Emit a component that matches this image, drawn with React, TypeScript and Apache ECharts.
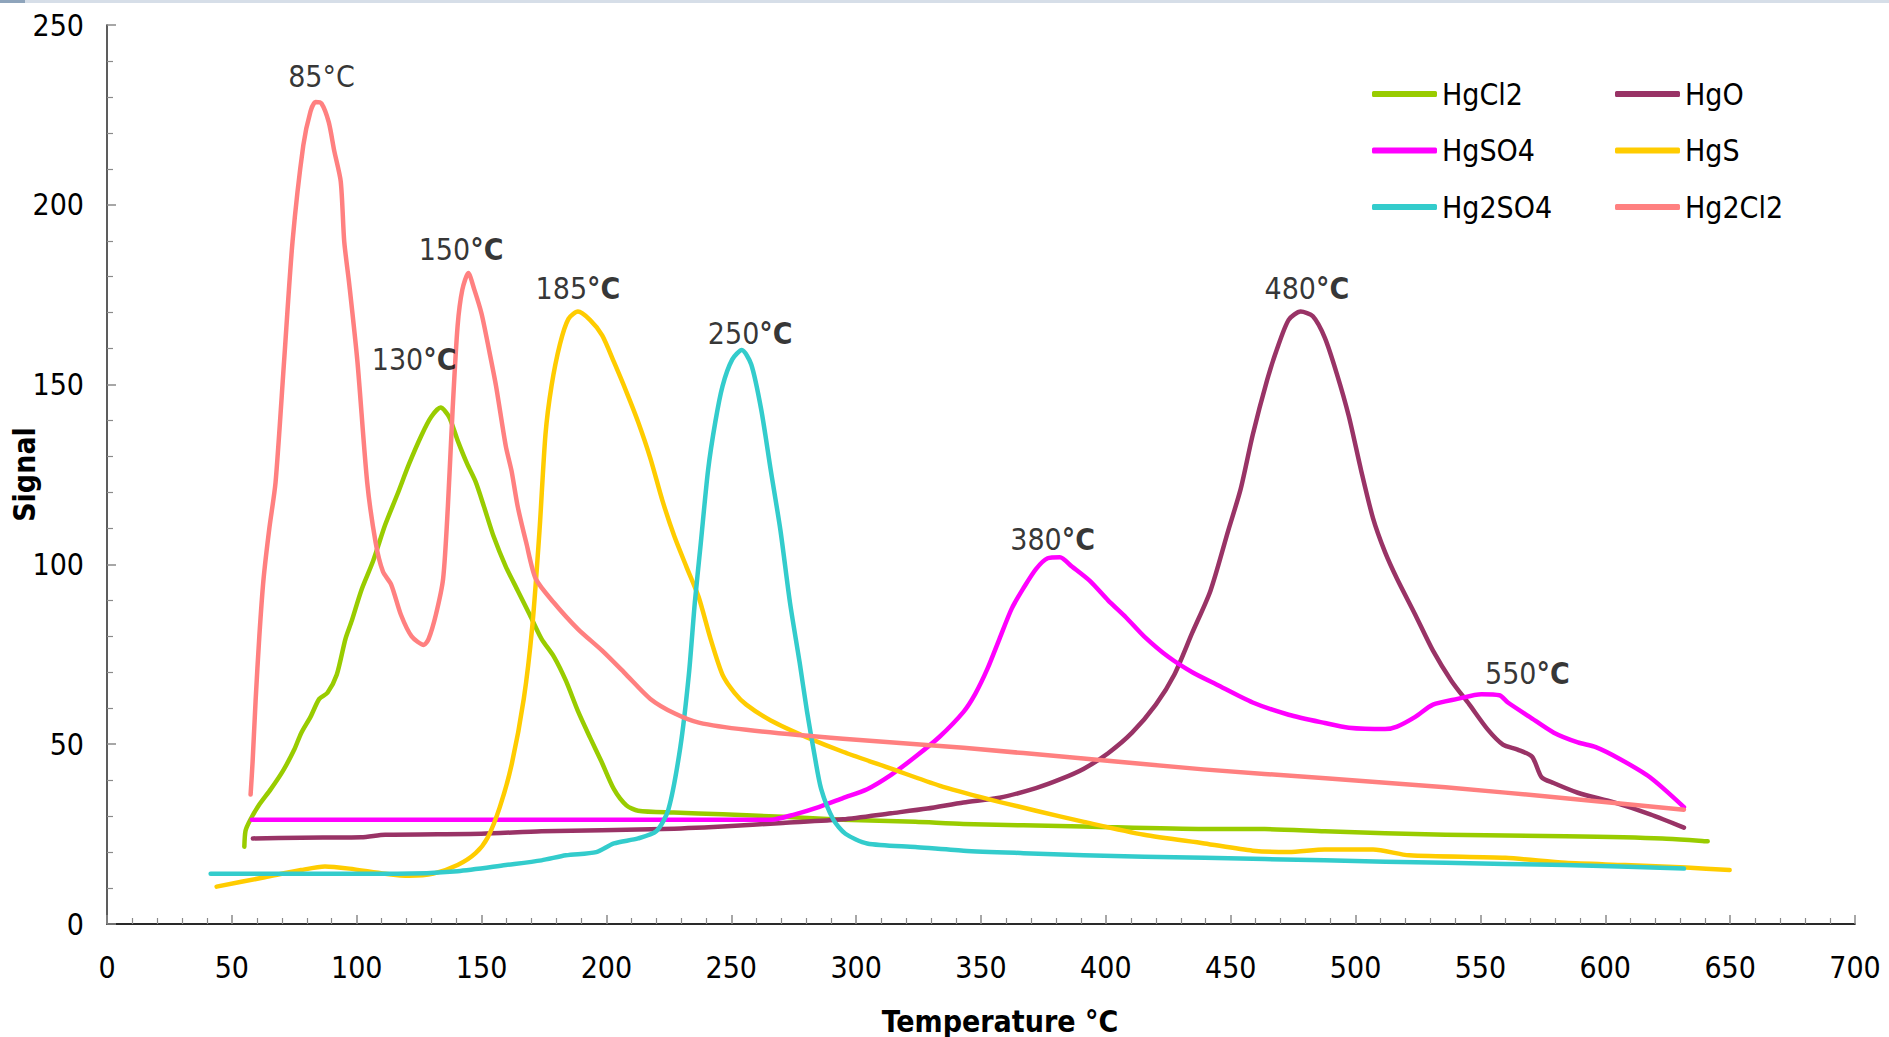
import React, { useEffect, useRef } from 'react';
import * as echarts from 'echarts';

const FONT = "'DejaVu Sans Condensed', 'DejaVu Sans', sans-serif";

const seriesNames = ['HgCl2', 'HgO', 'HgSO4', 'HgS', 'Hg2SO4', 'Hg2Cl2'];
const seriesColors = ['#99CC00', '#993366', '#FF00FF', '#FFCC00', '#33CCCC', '#FF8080'];

const hgCl2: number[][] = [[55,21.5],[55.5,26],[57.4,29],[60.8,33],[65.6,37.5],[70.4,42.5],[75,48.5],[77.7,53],[81.5,57.6],[85,62.6],[88.3,64.3],[92,69.3],[95.5,79.3],[98,84.3],[101.8,92.7],[106.6,101],[111.4,111],[116.3,119.5],[121,128],[126,136],[129.8,141],[133.6,143.6],[137,141],[140.4,134.5],[144.2,128],[147.6,123],[151,116],[154.8,107.8],[159.7,99.4],[164.5,92.7],[169.3,86],[174,79.3],[179,74.3],[183.8,67.6],[188.6,59.2],[193.4,51.9],[198,45.2],[203,37.5],[208,33],[212.7,31.5],[227,31],[246.5,30.5],[270.6,29.8],[294.7,29],[323.7,28.4],[343,27.8],[391,27.1],[439.5,26.4],[463.6,26.4],[487.7,25.8],[536,24.8],[584,24.4],[622.8,23.8],[641,23]];

const hgO: number[][] = [[58.4,23.8],[77.7,24],[101.8,24.1],[111.4,24.8],[150,25.1],[174,25.8],[222.4,26.4],[246.5,27.1],[270.6,28.1],[294.7,29.1],[314,30.8],[328.5,32.1],[343,33.8],[357.4,35.1],[372,37.8],[381.6,40.2],[391.2,43.2],[400.9,47.5],[410.5,53.2],[420,61],[427.4,69.3],[434.6,81],[441.9,92.7],[449,109.4],[454,121],[458.8,136],[464.6,151.3],[468.4,159.6],[473.2,168],[478,170.3],[482.9,169],[487.7,163],[492.5,153],[497.3,141.2],[502.2,126.2],[507,112.8],[511.8,103.4],[516.6,96],[523.9,86],[531,76],[538.4,67.6],[545.6,61],[552.8,54.2],[559,49.9],[564.9,48.5],[570.7,46.5],[574.5,40.8],[579.3,39.2],[589,36.5],[603.5,33.8],[618,30.5],[631.5,26.8]];

const hgSO4: number[][] = [[58,29],[150,29],[265.8,29],[275.5,30.5],[285,32.5],[294.7,35],[304.4,37.5],[314,41.5],[323.7,46.5],[333.3,52],[343,59],[347.7,64],[352.6,71],[357.4,79.3],[362.3,87.7],[367,93.4],[372,98.7],[376.7,101.7],[381.6,102],[386.4,99.4],[393.6,95.4],[400.9,90],[408,85.3],[415.3,80],[425,74.3],[434.6,70],[444.3,66.6],[458.8,61.6],[473.2,58.2],[487.7,55.9],[497.3,54.6],[511.8,54.2],[516.6,54.9],[523.9,57.6],[531,61],[540.8,62.6],[550.4,63.9],[557.6,63.6],[561,61.6],[569.7,57.6],[579.4,53.2],[589,50.5],[596.2,49.2],[605.8,45.9],[617.9,40.8],[631.5,32.5]];

const hgS: number[][] = [[43.9,10.4],[63.2,13],[77.7,15],[87.3,16],[97,15.4],[111.4,14],[121,13.4],[130.7,14],[140.4,16.4],[147.6,19.7],[152.4,24],[157.3,32.5],[162,44.2],[166.9,62.6],[170.3,82.7],[173.2,109.4],[175.6,136.2],[178,149.6],[181.4,161.3],[184.8,168.3],[188.6,170.3],[193.4,168],[198.3,163.7],[203,156.3],[208,148],[212.7,139.6],[217.6,129.5],[222.4,117.8],[227.2,107.8],[232,99.4],[236.9,91],[241.7,79.3],[246.5,69.3],[251.3,64.3],[256,61],[265.8,56.6],[280.3,51.9],[294.7,47.9],[314,43.2],[333.3,38.5],[352.6,34.8],[372,31.5],[391.2,28.4],[415.3,24.8],[439.5,22.4],[458.8,20.4],[473.2,20],[487.7,20.7],[507,20.7],[521.5,19.1],[560,18.4],[584,17],[608,16.4],[632.4,15.7],[649.8,15]];

const hg2SO4: number[][] = [[41.5,14],[77.7,14],[116.3,14],[140.4,14.7],[159.7,16.4],[174,17.7],[183.8,19.1],[195.9,20],[203,22.4],[212.7,23.8],[220,25.8],[224.8,31.8],[229.6,49.2],[233,69.3],[235.4,89.4],[237.8,106],[240.7,126.2],[243.6,139.6],[246.5,149.6],[250.4,157],[254.2,159.6],[258,155.6],[262,143],[265.8,126.2],[269.7,109.4],[273.5,89.4],[277.4,72.6],[280.3,59.2],[283.2,47.5],[286,37.5],[290.9,29],[295.7,25.1],[304.4,22.4],[323.7,21.4],[343,20.4],[367,19.7],[391.2,19.1],[439.5,18.4],[487.7,17.7],[536,17],[584,16.4],[631.5,15.4]];

const hg2Cl2: number[][] = [[57.5,36],[58.3,45],[59.5,62],[61,80],[62.7,96],[65,110],[67.5,122.8],[70.9,156.3],[74.3,189.8],[78.6,216.5],[81.5,226],[83.5,228.6],[85.9,228.2],[88.8,223],[91,215],[93.6,206.5],[95,189.8],[97,178],[100.3,156.3],[104.2,122.8],[107.6,106],[110.5,98],[113.8,94.4],[117.7,86],[122,80],[126.9,77.6],[128.8,79.3],[131.7,86],[134.6,96],[136.5,116],[138.4,143],[140.4,166.3],[142.3,176.4],[144.7,181],[147.1,176.4],[150,169.7],[153,159.6],[155.8,149.6],[159.7,132.9],[162,126],[164.5,116],[167.9,106],[171.7,96],[178.9,89.4],[188.6,82],[198.3,76],[208,69.3],[217.6,62.6],[227.2,58.6],[237,56],[256,54],[294.7,51.5],[343,49],[391,46],[439,43],[488,40.5],[536,38],[584,35],[631.5,31.8]];

const seriesData = [hgCl2, hgO, hgSO4, hgS, hg2SO4, hg2Cl2];

// Peak annotations: number, whether "°C" is bold, anchor in data units
const annotationNumbers = ['85', '150', '130', '185', '250', '380', '480', '550'];
const annotationBoldUnit = [false, true, true, true, true, true, true, true];
const annotationX = [85.9, 141.8, 123, 188.6, 257.6, 378.7, 480.5, 568.8];
const annotationY = [235.6, 187.7, 157, 176.7, 164.3, 106.8, 176.7, 69.6];

const legendColumn1 = ['HgCl2', 'HgSO4', 'Hg2SO4'];
const legendColumn2 = ['HgO', 'HgS', 'Hg2Cl2'];

export default function App() {
  const ref = useRef<HTMLDivElement>(null);
  useEffect(() => {
    if (!ref.current) return;
    const chart = echarts.init(ref.current, null, { renderer: 'svg' });
    const legendBase = {
      orient: 'vertical',
      top: 74,
      itemWidth: 65,
      itemHeight: 6,
      itemGap: 26.5,
      icon: 'roundRect',
      textStyle: { fontSize: 30, lineHeight: 30, color: '#000', fontFamily: FONT },
    };
    const lineSeries = seriesNames.map((name, i) => ({
      name,
      type: 'line',
      data: seriesData[i],
      showSymbol: false,
      symbol: 'none',
      smooth: 0.25,
      color: seriesColors[i],
      lineStyle: { width: 4.5, color: seriesColors[i], cap: 'round', join: 'round' },
      z: 2 + i,
    }));
    const annotationSeries = {
      name: 'annotations',
      type: 'scatter',
      silent: true,
      symbolSize: 2,
      itemStyle: { color: 'rgba(0,0,0,0)' },
      z: 20,
      data: annotationNumbers.map((n, i) => ({
        value: [annotationX[i], annotationY[i]],
        label: {
          show: true,
          position: 'inside',
          formatter: annotationBoldUnit[i] ? `{n|${n}}{b|°C}` : `{n|${n}°C}`,
        },
      })),
      label: {
        show: true,
        position: 'inside',
        color: '#000',
        rich: {
          n: { fontSize: 30, fontFamily: FONT, color: '#000' },
          b: { fontSize: 30, fontFamily: FONT, color: '#000', fontWeight: 'bold' },
        },
      },
    };
    chart.setOption({
      animation: false,
      backgroundColor: '#fff',
      textStyle: { fontFamily: FONT },
      graphic: [
        { type: 'rect', shape: { x: 0, y: 0, width: 1889, height: 3 }, style: { fill: '#d6dee8' } },
        { type: 'rect', shape: { x: 0, y: 0, width: 25, height: 3 }, style: { fill: '#8ea4bb' } },
      ],
      grid: { left: 107, right: 34, top: 25, bottom: 113, containLabel: false, outerBoundsMode: 'none' },
      legend: [
        { ...legendBase, left: 1367, data: legendColumn1 },
        { ...legendBase, left: 1610, data: legendColumn2 },
      ],
      xAxis: [
        {
          type: 'value',
          min: 0,
          max: 700,
          interval: 50,
          axisLine: { show: true, lineStyle: { color: '#8a8a8a', width: 1.5 } },
          axisTick: { show: true, inside: true, length: 9, lineStyle: { color: '#8a8a8a', width: 1.5 } },
          minorTick: { show: true, splitNumber: 5, length: 6, lineStyle: { color: '#8a8a8a', width: 1.2 } },
          splitLine: { show: false },
          axisLabel: { margin: 28, fontSize: 30, color: '#000', fontFamily: FONT },
          name: 'Temperature °C',
          nameLocation: 'middle',
          nameGap: 82,
          nameTextStyle: { fontSize: 30, fontWeight: 'bold', color: '#000', fontFamily: FONT, padding: [0, 0, 0, 38] },
        },
        {
          type: 'value',
          position: 'top',
          min: 0,
          max: 700,
          interval: 50,
          axisLine: { show: true, lineStyle: { color: '#000', width: 1.5 } },
          axisTick: { show: false },
          axisLabel: { show: false },
          splitLine: { show: false },
        },
      ],
      yAxis: [
        {
          type: 'value',
          min: 0,
          max: 250,
          interval: 50,
          axisLine: { show: true, lineStyle: { color: '#8a8a8a', width: 1.5 } },
          axisTick: { show: true, inside: true, length: 9, lineStyle: { color: '#8a8a8a', width: 1.5 } },
          minorTick: { show: true, splitNumber: 5, length: 6, lineStyle: { color: '#8a8a8a', width: 1.2 } },
          splitLine: { show: false },
          axisLabel: { margin: 23, fontSize: 30, color: '#000', fontFamily: FONT },
          name: 'Signal',
          nameLocation: 'middle',
          nameGap: 68,
          nameMoveOverlap: false,
          nameTextStyle: { fontSize: 30, fontWeight: 'bold', color: '#000', fontFamily: FONT },
        },
        {
          type: 'value',
          position: 'right',
          min: 0,
          max: 250,
          interval: 50,
          axisLine: { show: true, lineStyle: { color: '#444', width: 1.5 } },
          axisTick: { show: false },
          axisLabel: { show: false },
          splitLine: { show: false },
        },
      ],
      series: [...lineSeries, annotationSeries],
    });
    return () => chart.dispose();
  }, []);
  return (
    <div
      ref={ref}
      style={{ position: 'fixed', left: 0, top: 0, width: 1889, height: 1037 }}
    />
  );
}
